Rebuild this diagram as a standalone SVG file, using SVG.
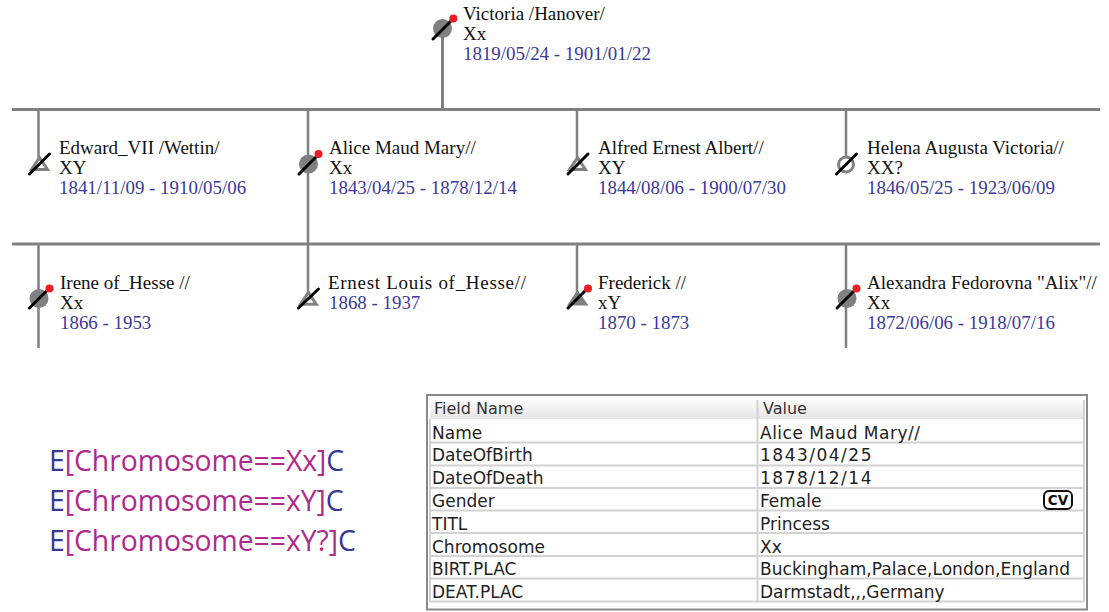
<svg xmlns="http://www.w3.org/2000/svg" width="1109" height="612" viewBox="0 0 1109 612">
<style>
.ln{stroke:#808080;stroke-width:2.500;fill:none}
.hz{stroke:#808080;stroke-width:3;fill:none}
.th{stroke:#808080;stroke-width:3;fill:#fff;stroke-linejoin:miter}
.fl{fill:#808080;stroke:none}
.sl{stroke:#000;stroke-width:3;stroke-linecap:round}
.dot{fill:#ee1c25}
text{font-family:"Liberation Serif","Times New Roman",serif;font-size:19px;fill:#111}
.d{fill:#3a3a9c;font-size:18.900px}
.f text{font-family:"DejaVu Sans","Lucida Grande",sans-serif;font-size:17px;fill:#222}
.f .h{font-size:16px;fill:#333}
.f .n{letter-spacing:1.500px}
.q text{font-family:"Open Sans","Noto Sans",sans-serif;font-size:28.300px;fill:#b02a8c}
.q .b{fill:#37389c}
.g{stroke:#d2d2d2;stroke-width:2;fill:none}
</style>
<defs>
<linearGradient id="hd" x1="0" y1="0" x2="0" y2="1"><stop offset="0" stop-color="#fbfbfb"/><stop offset="1" stop-color="#e6e6e6"/></linearGradient>
</defs>
<g id="connectors">
<path class="hz" d="M12 109.500H1100M12 244H1100M442.500 30V109"/>
<path class="ln" d="M38.500 109V158M308 109V244M577 109V158M846 109V158M38.500 244V348M308 244V294M577 244V294M846 244V348"/>
</g>
<g id="victoria"><circle class="fl" cx="442.500" cy="28.500" r="9.500"/><path class="sl" d="M433 39L453 19"/><circle class="dot" cx="453.300" cy="18.500" r="4"/>
<text x="463" y="20">Victoria /Hanover/</text><text x="463" y="40">Xx</text><text class="d" x="463" y="60">1819/05/24 - 1901/01/22</text></g>
<g id="edward"><path class="th" d="M39.500 157.700L47.500 169.500H31.500Z"/><path class="sl" d="M29.500 174L49.500 154"/>
<text x="59" y="154">Edward_VII /Wettin/</text><text x="59" y="174">XY</text><text class="d" x="59" y="194">1841/11/09 - 1910/05/06</text></g>
<g id="alice"><circle class="fl" cx="308.500" cy="164" r="9.500"/><path class="sl" d="M299 174L319 154"/><circle class="dot" cx="318.500" cy="154" r="4"/>
<text x="329" y="154">Alice Maud Mary//</text><text x="329" y="174">Xx</text><text class="d" x="329" y="194">1843/04/25 - 1878/12/14</text></g>
<g id="alfred"><path class="th" d="M577.500 157.700L585.400 169.500H569.600Z"/><path class="sl" d="M568 174L588 154"/>
<text x="598" y="154">Alfred Ernest Albert//</text><text x="598" y="174">XY</text><text class="d" x="598" y="194">1844/08/06 - 1900/07/30</text></g>
<g id="helena"><circle class="th" cx="846" cy="164.500" r="7.500"/><path class="sl" d="M836.500 174L856.500 154"/>
<text x="867" y="154">Helena Augusta Victoria//</text><text x="867" y="174">XX?</text><text class="d" x="867" y="194">1846/05/25 - 1923/06/09</text></g>
<g id="irene"><circle class="fl" cx="39" cy="298.500" r="9.500"/><path class="sl" d="M29.500 308L49.500 288"/><circle class="dot" cx="49.500" cy="288.500" r="4"/>
<text x="60" y="289">Irene of_Hesse //</text><text x="60" y="309">Xx</text><text class="d" x="60" y="329">1866 - 1953</text></g>
<g id="ernest"><path class="th" d="M308.400 292.500L316.300 304.300H300.500Z"/><path class="sl" d="M298.500 308L318.500 289"/>
<text x="328" y="289" textLength="198" lengthAdjust="spacing">Ernest Louis of_Hesse//</text><text class="d" x="329" y="309">1868 - 1937</text></g>
<g id="frederick"><path class="fl" d="M577.500 290L588.500 305.500H567Z"/><path class="sl" d="M568 308L588 288"/><circle class="dot" cx="588" cy="288.500" r="4"/>
<text x="598" y="289">Frederick //</text><text x="598" y="309">xY</text><text class="d" x="598" y="329">1870 - 1873</text></g>
<g id="alexandra"><circle class="fl" cx="847" cy="298.500" r="9.500"/><path class="sl" d="M837 308L857 288"/><circle class="dot" cx="856.500" cy="288.500" r="4"/>
<text x="867" y="289">Alexandra Fedorovna "Alix"//</text><text x="867" y="309">Xx</text><text class="d" x="867" y="329">1872/06/06 - 1918/07/16</text></g>
<g id="formulas" class="q">
<text x="49" y="471"><tspan class="b">E</tspan>[Chromosome==Xx]<tspan class="b">C</tspan></text>
<text x="49" y="511"><tspan class="b">E</tspan>[Chromosome==xY]<tspan class="b">C</tspan></text>
<text x="49" y="550.500"><tspan class="b">E</tspan>[Chromosome==xY?]<tspan class="b">C</tspan></text>
</g>
<g id="table" class="f">
<rect x="427" y="395" width="660" height="214.500" fill="#fff" stroke="#8a8a8a" stroke-width="2"/>
<rect x="430" y="400" width="654" height="19" fill="url(#hd)"/>
<path class="g" d="M430 442.500H1084M430 465.500H1084M430 488H1084M430 510.500H1084M430 533H1084M430 556H1084M430 578.500H1084M430 601.500H1084M757.500 400V601.500M1084 400V601.500M430 419V601.500"/>
<text class="h" x="434" y="414">Field Name</text><text class="h" x="763" y="414">Value</text>
<text x="432" y="439">Name</text><text x="760" y="439" letter-spacing="0.500">Alice Maud Mary//</text>
<text x="432" y="461">DateOfBirth</text><text class="n" x="760" y="461">1843/04/25</text>
<text x="432" y="484">DateOfDeath</text><text class="n" x="760" y="484">1878/12/14</text>
<text x="432" y="507">Gender</text><text x="760" y="507">Female</text>
<text x="432" y="530">TITL</text><text x="760" y="530">Princess</text>
<text x="432" y="553">Chromosome</text><text x="760" y="553">Xx</text>
<text x="432" y="575">BIRT.PLAC</text><text x="760" y="575" letter-spacing="0.060">Buckingham,Palace,London,England</text>
<text x="432" y="598">DEAT.PLAC</text><text x="760" y="598">Darmstadt,,,Germany</text>
<rect x="1044" y="491" width="28" height="18" rx="5" fill="#fff" stroke="#111" stroke-width="2"/>
<text x="1058" y="505" text-anchor="middle" style="font-size:13.500px;font-weight:bold;fill:#111">CV</text>
</g>
</svg>
